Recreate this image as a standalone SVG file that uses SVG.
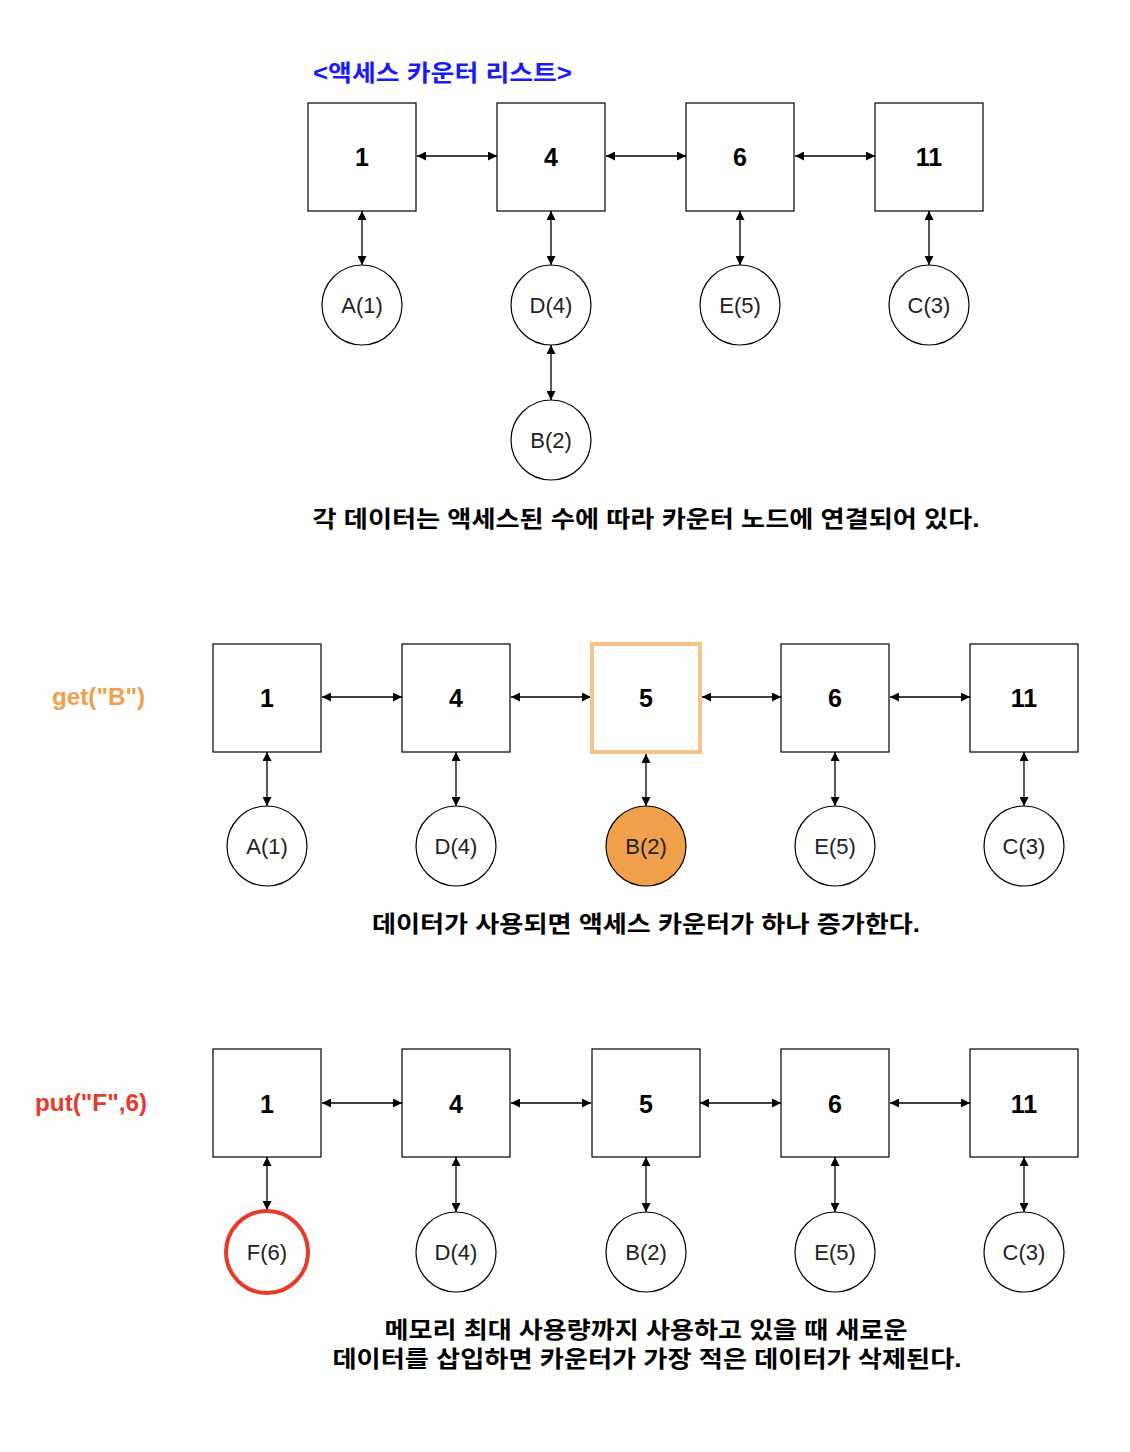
<svg xmlns="http://www.w3.org/2000/svg" width="1130" height="1452" viewBox="0 0 1130 1452">
<style>
.box{fill:#fff;stroke:#000;stroke-width:1.2}
.cir{fill:#fff;stroke:#000;stroke-width:1.2}
.num{font-family:"Liberation Sans",Arial,sans-serif;font-weight:bold;font-size:25px;fill:#000;text-anchor:middle;dominant-baseline:central}
.lab{font-family:"Liberation Sans",Arial,sans-serif;font-size:22px;fill:#222;text-anchor:middle;dominant-baseline:central}
.cap{font-family:"Liberation Sans","Noto Sans CJK KR",sans-serif;font-weight:bold;font-size:23px;fill:#000;text-anchor:middle;dominant-baseline:central}
.con line{stroke:#000;stroke-width:1.3;marker-start:url(#ah);marker-end:url(#ah)}
</style>
<defs>
<marker id="ah" viewBox="0 0 10 10" refX="10" refY="5" markerWidth="9" markerHeight="9" markerUnits="userSpaceOnUse" orient="auto-start-reverse">
<path d="M0,0 L10,5 L0,10 Z" fill="#000"/>
</marker>
</defs>
<rect width="1130" height="1452" fill="#fff"/>

<text x="313" y="73" textLength="259" lengthAdjust="spacingAndGlyphs" font-family="'Liberation Sans','Noto Sans CJK KR',sans-serif" font-weight="bold" font-size="23" fill="#1a1aff" dominant-baseline="central">&lt;액세스 카운터 리스트&gt;</text>

<g class="con">
<line x1="417" y1="156" x2="497" y2="156"/>
<line x1="606" y1="156" x2="686" y2="156"/>
<line x1="795" y1="156" x2="875" y2="156"/>
<line x1="362" y1="211" x2="362" y2="265"/>
<line x1="551" y1="211" x2="551" y2="265"/>
<line x1="740" y1="211" x2="740" y2="265"/>
<line x1="929" y1="211" x2="929" y2="265"/>
<line x1="551" y1="345" x2="551" y2="400"/>
<line x1="322" y1="697" x2="402" y2="697"/>
<line x1="511" y1="697" x2="591" y2="697"/>
<line x1="702" y1="697" x2="781" y2="697"/>
<line x1="890" y1="697" x2="970" y2="697"/>
<line x1="267" y1="752" x2="267" y2="806"/>
<line x1="456" y1="752" x2="456" y2="806"/>
<line x1="646" y1="754" x2="646" y2="806"/>
<line x1="835" y1="752" x2="835" y2="806"/>
<line x1="1024" y1="752" x2="1024" y2="806"/>
<line x1="322" y1="1103" x2="402" y2="1103"/>
<line x1="511" y1="1103" x2="591" y2="1103"/>
<line x1="700" y1="1103" x2="781" y2="1103"/>
<line x1="890" y1="1103" x2="970" y2="1103"/>
<line x1="267" y1="1157" x2="267" y2="1210"/>
<line x1="456" y1="1157" x2="456" y2="1212"/>
<line x1="646" y1="1157" x2="646" y2="1212"/>
<line x1="835" y1="1157" x2="835" y2="1212"/>
<line x1="1024" y1="1157" x2="1024" y2="1212"/>
</g>

<g id="r1-b1"><rect class="box" x="308" y="103" width="108" height="108"/><text class="num" x="362" y="157">1</text></g>
<g id="r1-b4"><rect class="box" x="497" y="103" width="108" height="108"/><text class="num" x="551" y="157">4</text></g>
<g id="r1-b6"><rect class="box" x="686" y="103" width="108" height="108"/><text class="num" x="740" y="157">6</text></g>
<g id="r1-b11"><rect class="box" x="875" y="103" width="108" height="108"/><text class="num" x="929" y="157">11</text></g>
<g id="r1-A"><circle class="cir" cx="362" cy="305" r="40"/><text class="lab" x="362" y="305">A(1)</text></g>
<g id="r1-D"><circle class="cir" cx="551" cy="305" r="40"/><text class="lab" x="551" y="305">D(4)</text></g>
<g id="r1-E"><circle class="cir" cx="740" cy="305" r="40"/><text class="lab" x="740" y="305">E(5)</text></g>
<g id="r1-C"><circle class="cir" cx="929" cy="305" r="40"/><text class="lab" x="929" y="305">C(3)</text></g>
<g id="r1-B"><circle class="cir" cx="551" cy="440" r="40"/><text class="lab" x="551" y="440">B(2)</text></g>
<text class="cap" x="646" y="519" textLength="667" lengthAdjust="spacingAndGlyphs">각 데이터는 액세스된 수에 따라 카운터 노드에 연결되어 있다.</text>

<text x="52" y="697" textLength="93" lengthAdjust="spacingAndGlyphs" font-family="'Liberation Sans',Arial,sans-serif" font-weight="bold" font-size="23" fill="#f0a04b" dominant-baseline="central">get("B")</text>
<g id="r2-b1"><rect class="box" x="213" y="644" width="108" height="108"/><text class="num" x="267" y="698">1</text></g>
<g id="r2-b4"><rect class="box" x="402" y="644" width="108" height="108"/><text class="num" x="456" y="698">4</text></g>
<g id="r2-b5"><rect x="592" y="644" width="108" height="108" fill="#fff" stroke="#f8c38a" stroke-width="4"/><text class="num" x="646" y="698">5</text></g>
<g id="r2-b6"><rect class="box" x="781" y="644" width="108" height="108"/><text class="num" x="835" y="698">6</text></g>
<g id="r2-b11"><rect class="box" x="970" y="644" width="108" height="108"/><text class="num" x="1024" y="698">11</text></g>
<g id="r2-A"><circle class="cir" cx="267" cy="846" r="40"/><text class="lab" x="267" y="846">A(1)</text></g>
<g id="r2-D"><circle class="cir" cx="456" cy="846" r="40"/><text class="lab" x="456" y="846">D(4)</text></g>
<g id="r2-B"><circle cx="646" cy="846" r="40" fill="#f0a04b" stroke="#000" stroke-width="1.2"/><text class="lab" x="646" y="846">B(2)</text></g>
<g id="r2-E"><circle class="cir" cx="835" cy="846" r="40"/><text class="lab" x="835" y="846">E(5)</text></g>
<g id="r2-C"><circle class="cir" cx="1024" cy="846" r="40"/><text class="lab" x="1024" y="846">C(3)</text></g>
<text class="cap" x="646" y="924" textLength="548" lengthAdjust="spacingAndGlyphs">데이터가 사용되면 액세스 카운터가 하나 증가한다.</text>

<text x="35" y="1103" textLength="112" lengthAdjust="spacingAndGlyphs" font-family="'Liberation Sans',Arial,sans-serif" font-weight="bold" font-size="23" fill="#e83a2b" dominant-baseline="central">put("F",6)</text>
<g id="r3-b1"><rect class="box" x="213" y="1049" width="108" height="108"/><text class="num" x="267" y="1104">1</text></g>
<g id="r3-b4"><rect class="box" x="402" y="1049" width="108" height="108"/><text class="num" x="456" y="1104">4</text></g>
<g id="r3-b5"><rect class="box" x="592" y="1049" width="108" height="108"/><text class="num" x="646" y="1104">5</text></g>
<g id="r3-b6"><rect class="box" x="781" y="1049" width="108" height="108"/><text class="num" x="835" y="1104">6</text></g>
<g id="r3-b11"><rect class="box" x="970" y="1049" width="108" height="108"/><text class="num" x="1024" y="1104">11</text></g>
<g id="r3-F"><circle cx="267" cy="1252" r="41" fill="#fff" stroke="#e83a2b" stroke-width="4"/><text class="lab" x="267" y="1252">F(6)</text></g>
<g id="r3-D"><circle class="cir" cx="456" cy="1252" r="40"/><text class="lab" x="456" y="1252">D(4)</text></g>
<g id="r3-B"><circle class="cir" cx="646" cy="1252" r="40"/><text class="lab" x="646" y="1252">B(2)</text></g>
<g id="r3-E"><circle class="cir" cx="835" cy="1252" r="40"/><text class="lab" x="835" y="1252">E(5)</text></g>
<g id="r3-C"><circle class="cir" cx="1024" cy="1252" r="40"/><text class="lab" x="1024" y="1252">C(3)</text></g>
<text class="cap" x="646" y="1330" textLength="523" lengthAdjust="spacingAndGlyphs">메모리 최대 사용량까지 사용하고 있을 때 새로운</text>
<text class="cap" x="647" y="1359" textLength="629" lengthAdjust="spacingAndGlyphs">데이터를 삽입하면 카운터가 가장 적은 데이터가 삭제된다.</text>
</svg>
